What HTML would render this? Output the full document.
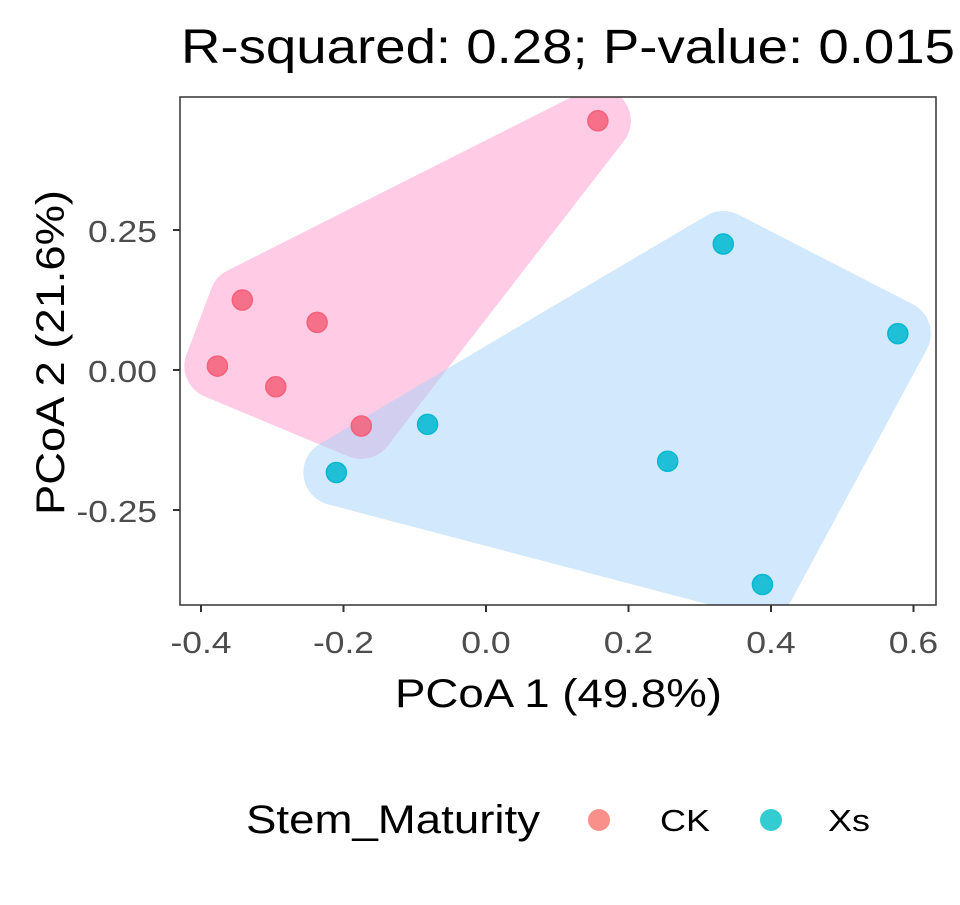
<!DOCTYPE html>
<html><head><meta charset="utf-8"><style>
body{margin:0;background:#fff;font-family:"Liberation Sans",Arial,sans-serif}
</style></head><body>
<svg id="chart" width="960" height="900" xmlns="http://www.w3.org/2000/svg">
<defs><clipPath id="pc"><rect x="180" y="97" width="756" height="508"/></clipPath></defs>
<text x="181" y="63" font-size="48" textLength="774" lengthAdjust="spacingAndGlyphs" fill="#000">R-squared: 0.28; P-value: 0.015</text>
<g id="hulls" clip-path="url(#pc)"></g>
<g id="pts" clip-path="url(#pc)"></g>
<rect x="180" y="97" width="756" height="508" fill="none" stroke="#333" stroke-width="1.5"/>
<g id="axes"></g>
<text x="395" y="707" font-size="40" textLength="327" lengthAdjust="spacingAndGlyphs">PCoA 1 (49.8%)</text>
<text transform="translate(64,515) rotate(-90)" font-size="40" textLength="325" lengthAdjust="spacingAndGlyphs">PCoA 2 (21.6%)</text>
<g>
<text x="246" y="833" font-size="40" textLength="294" lengthAdjust="spacingAndGlyphs">Stem_Maturity</text>
<circle cx="599" cy="820" r="11" fill="#F8766D" fill-opacity="0.8"/>
<text x="660" y="831" font-size="31" textLength="50" lengthAdjust="spacingAndGlyphs">CK</text>
<circle cx="771" cy="820" r="11" fill="#00BFC4" fill-opacity="0.8"/>
<text x="828" y="831" font-size="31" textLength="42" lengthAdjust="spacingAndGlyphs">Xs</text>
</g>
</svg>
<script>
const groups=["CK","Xs"];
const ckX=[-0.377,-0.342,-0.295,-0.237,-0.175,0.157];
const ckY=[0.007,0.125,-0.030,0.085,-0.100,0.445];
const xsX=[-0.210,-0.082,0.255,0.333,0.578,0.388];
const xsY=[-0.183,-0.097,-0.163,0.225,0.065,-0.383];
const xTicks=[-0.4,-0.2,0.0,0.2,0.4,0.6];
const xTickLabels=["-0.4","-0.2","0.0","0.2","0.4","0.6"];
const yTicks=[0.25,0,-0.25];
const yTickLabels=["0.25","0.00","-0.25"];
const NS="http://www.w3.org/2000/svg";
const sx=v=>486+v*712.5, sy=v=>370-v*560;
function mk(t,a,p){const e=document.createElementNS(NS,t);for(const k in a)e.setAttribute(k,a[k]);p.appendChild(e);return e;}
function tw(s){let w=0;for(const ch of s)w+=ch==='.'?10.5:ch==='-'?11.5:19.5;return w;}
const axes=document.getElementById('axes');
xTicks.forEach((t,i)=>{
 const l=mk('line',{x1:sx(t),x2:sx(t),y1:605,y2:612,stroke:'#333','stroke-width':2},axes);
 
 
 const lab=xTickLabels[i];
 const tx=mk('text',{x:sx(t),y:653,'font-size':31,'text-anchor':'middle',fill:'#4d4d4d',textLength:tw(lab),lengthAdjust:'spacingAndGlyphs'},axes);tx.textContent=lab;
 
 
});
yTicks.forEach((t,i)=>{
 const l=mk('line',{x1:173,x2:180,y1:sy(t),y2:sy(t),stroke:'#333','stroke-width':2},axes);
 
 
 const lab=yTickLabels[i];
 const tx=mk('text',{x:157,y:sy(t)+12,'font-size':31,'text-anchor':'end',fill:'#4d4d4d',textLength:tw(lab),lengthAdjust:'spacingAndGlyphs'},axes);tx.textContent=lab;
 
 
});
function hull(pts){pts=pts.slice().sort((a,b)=>a[0]-b[0]||a[1]-b[1]);const c=(o,a,b)=>(a[0]-o[0])*(b[1]-o[1])-(a[1]-o[1])*(b[0]-o[0]);
 const lo=[],up=[];for(const p of pts){while(lo.length>=2&&c(lo[lo.length-2],lo[lo.length-1],p)<=0)lo.pop();lo.push(p);}
 for(const p of pts.slice().reverse()){while(up.length>=2&&c(up[up.length-2],up[up.length-1],p)<=0)up.pop();up.push(p);}
 up.pop();lo.pop();return lo.concat(up);}
const hg=document.getElementById('hulls'), pg=document.getElementById('pts');
const sets=[[ckX,ckY,'#FF99CC','#F5607A','ck'],[xsX,xsY,'#A6D2FA','#00B8D0','xs']];
sets.forEach(([X,Y,fc,pc,n])=>{
 const P=X.map((x,i)=>[sx(x),sy(Y[i])]);const h=hull(P);
 const g=mk('g',{opacity:0.5},hg);
 
 
 mk('polygon',{points:h.map(p=>p.join(',')).join(' '),fill:fc,stroke:fc,'stroke-width':66,'stroke-linejoin':'round'},g);
});
sets.forEach(([X,Y,fc,pc,n])=>{
 X.forEach((x,i)=>{const c=mk('circle',{cx:sx(x),cy:sy(Y[i]),r:10,fill:pc,'fill-opacity':0.85,stroke:pc,'stroke-width':1.5},pg);
 
 });
});
</script>
</body></html>
